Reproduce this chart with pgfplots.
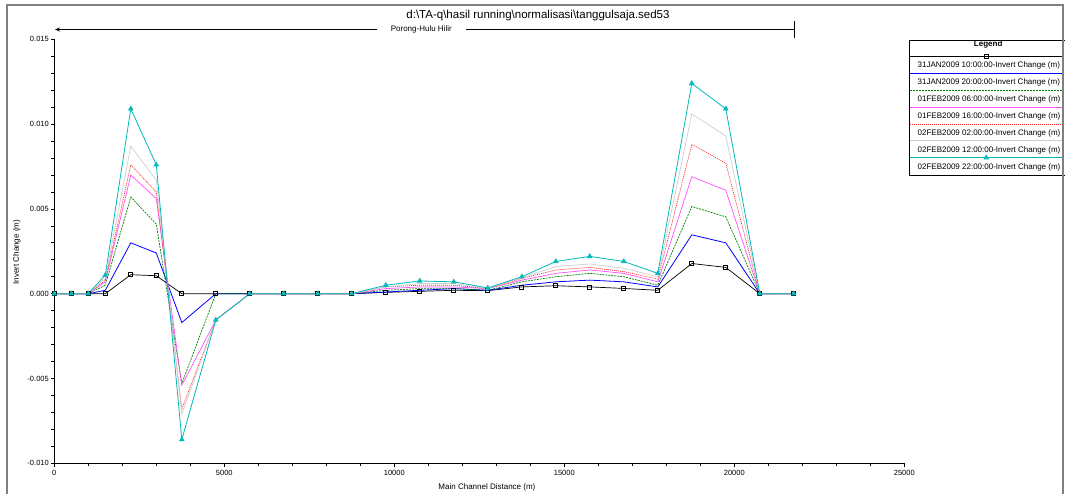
\documentclass[border=0pt]{standalone}
\usepackage{fontspec}
\setmainfont{Liberation Sans}
\usepackage{pgfplots}
\usepackage{pgfplotstable}
\pgfplotsset{compat=1.18}
\usetikzlibrary{arrows.meta}

\definecolor{cblue}{RGB}{0,0,255}
\definecolor{cgreen}{RGB}{0,128,0}
\definecolor{cmag}{RGB}{255,80,255}
\definecolor{cred}{RGB}{255,40,40}
\definecolor{cgray}{RGB}{205,205,205}
\definecolor{ccyan}{RGB}{0,185,185}

\pgfplotstableread{
x     blk      blu      grn      mag      red      gry      cyn
0     0        0        0        0        0        0        0
500   0        0        0        0        0        0        0
1000  0        0        0        0        0        0        0
1500  0        0.0002   0.0005   0.0007   0.0008   0.0009   0.0011
2250  0.00112  0.0030   0.0057   0.0070   0.0076   0.0087   0.0109
3000  0.00106  0.0024   0.0041   0.0056   0.0060   0.0067   0.0076
3750  0        -0.0017  -0.0053  -0.0054  -0.0068  -0.0071  -0.0086
4750  0        0        0        -0.00155 -0.00155 -0.00155 -0.00155
5750  0        0        0        0        0        0        0
6750  0        0        0        0        0        0        0
7750  0        0        0        0        0        0        0
8750  0        0        0        0        0        0        0
9750  0.00008  0.0001   0.0002   0.0003   0.0004   0.0004   0.0005
10750 0.00014  0.0002   0.0003   0.0004   0.0005   0.0006   0.00075
11750 0.0002   0.0003   0.0003   0.0004   0.0005   0.0006   0.0007
12750 0.00018  0.0002   0.0002   0.0003   0.0003   0.0003   0.00034
13750 0.0004   0.0005   0.0007   0.0008   0.0009   0.00095  0.0010
14750 0.00047  0.0007   0.0010   0.0012   0.0014   0.0016   0.0019
15750 0.0004   0.0008   0.0012   0.0014   0.00155  0.00175  0.0022
16750 0.00031  0.0007   0.0010   0.0012   0.0013   0.0015   0.0019
17750 0.0002   0.0004   0.0005   0.0007   0.00086  0.0010   0.0012
18750 0.00178  0.00347  0.00514  0.0069   0.0088   0.0106   0.0124
19750 0.00155  0.0030   0.00453  0.0061   0.0077   0.0093   0.0109
20750 0        0        0        0        0        0        0
21750 0        0        0        0        0        0        0
}\datatable

\begin{document}
\begin{tikzpicture}
\begin{axis}[
  scale only axis, width=850pt, height=424pt,
  xmin=0, xmax=25000, ymin=-0.010, ymax=0.015,
  axis x line*=bottom, axis y line*=left,
  axis line style={black, line width=0.8pt},
  xtick align=outside, ytick align=outside,
  major tick length=3.5pt, minor tick length=3pt,
  major tick style={draw=black, line width=0.7pt},
  minor tick style={draw=black, line width=0.7pt},
  xtick={0,5000,10000,15000,20000,25000},
  xticklabels={0,5000,10000,15000,20000,25000},
  minor x tick num=4,
  ytick={-0.010,-0.005,0,0.005,0.010,0.015},
  yticklabels={-0.010,-0.005,0.000,0.005,0.010,0.015},
  minor y tick num=4,
  scaled x ticks=false, scaled y ticks=false,
  tick label style={font=\fontsize{7.5}{9}\selectfont},
  yticklabel style={xshift=1.5pt},
  xticklabel style={yshift=0.5pt},
  clip=false,
  xlabel={Main Channel Distance (m)},
  ylabel={Invert Change (m)},
  label style={font=\fontsize{8}{10}\selectfont},
  xlabel style={at={(axis description cs:0.509,-0.058)}, anchor=center},
  ylabel style={at={(axis description cs:-0.044,0.498)}, anchor=center},
  legend style={at={(axis description cs:1.0055,0.999)}, anchor=north west,
    draw=black, line width=0.8pt, fill=white,
    font=\fontsize{8}{10}\selectfont,
    inner xsep=3pt, inner ysep=0pt, row sep=0pt,
    nodes={text height=6pt, text depth=1.8pt, inner ysep=4.55pt, inner xsep=4.5pt},
    cells={anchor=west}},
  legend cell align=left,
  legend image code/.code={%
    \draw[overlay,mark repeat=2,mark phase=2,#1]
      plot coordinates {(-3pt,9.3pt) (73.5pt,9.3pt) (150pt,9.3pt)};
    \path (0,0);},
]
\addlegendimage{empty legend}
\addlegendentry[text depth=10.6pt, inner ysep=0.2pt]{\hbox to 141pt{\hss\bfseries Legend\hss}}

\addplot[black, line width=0.7pt, mark=square, mark size=2pt, mark options={solid, fill=white}]
  table[x=x, y=blk]{\datatable};
\addlegendentry{31JAN2009 10:00:00-Invert Change (m)}
\addplot[cblue, line width=0.8pt]
  table[x=x, y=blu]{\datatable};
\addlegendentry{31JAN2009 20:00:00-Invert Change (m)}
\addplot[cgreen, line width=0.7pt, dash pattern=on 2pt off 1pt]
  table[x=x, y=grn]{\datatable};
\addlegendentry{01FEB2009 06:00:00-Invert Change (m)}
\addplot[cmag, line width=0.7pt]
  table[x=x, y=mag]{\datatable};
\addlegendentry{01FEB2009 16:00:00-Invert Change (m)}
\addplot[cred, line width=0.7pt, dash pattern=on 1pt off 1pt]
  table[x=x, y=red]{\datatable};
\addlegendentry{02FEB2009 02:00:00-Invert Change (m)}
\addplot[cgray, line width=0.7pt]
  table[x=x, y=gry]{\datatable};
\addlegendentry{02FEB2009 12:00:00-Invert Change (m)}
\addplot[ccyan, line width=0.8pt, mark=triangle*, mark size=2.5pt, mark options={solid}]
  table[x=x, y=cyn]{\datatable};
\addlegendentry{02FEB2009 22:00:00-Invert Change (m)}
\end{axis}

% title
\node[font=\fontsize{11.5}{13}\selectfont] at (483.7pt,447.8pt)
  {d:\textbackslash TA-q\textbackslash hasil running\textbackslash normalisasi\textbackslash tanggulsaja.sed53};
% reach bracket
\draw[black, line width=0.9pt, -{Stealth[length=5pt,width=4pt]}] (739.7pt,433.8pt) -- (0.7pt,433.8pt);
\draw[black, line width=0.9pt] (739.7pt,425pt) -- (739.7pt,442pt);
\node[fill=white, inner xsep=14pt, inner ysep=1pt, font=\fontsize{8}{10}\selectfont] at (367pt,433.8pt) {Porong-Hulu Hilir};
% outer frame
\draw[gray, line width=1.2pt] (-47.3pt,-40pt) -- (-47.3pt,458.3pt) -- (1008.7pt,458.3pt) -- (1008.7pt,-40pt);

\pgfresetboundingbox
\path[use as bounding box] (-54.3pt,-29.7pt) rectangle (1010.7pt,463.3pt);
\end{tikzpicture}
\end{document}
